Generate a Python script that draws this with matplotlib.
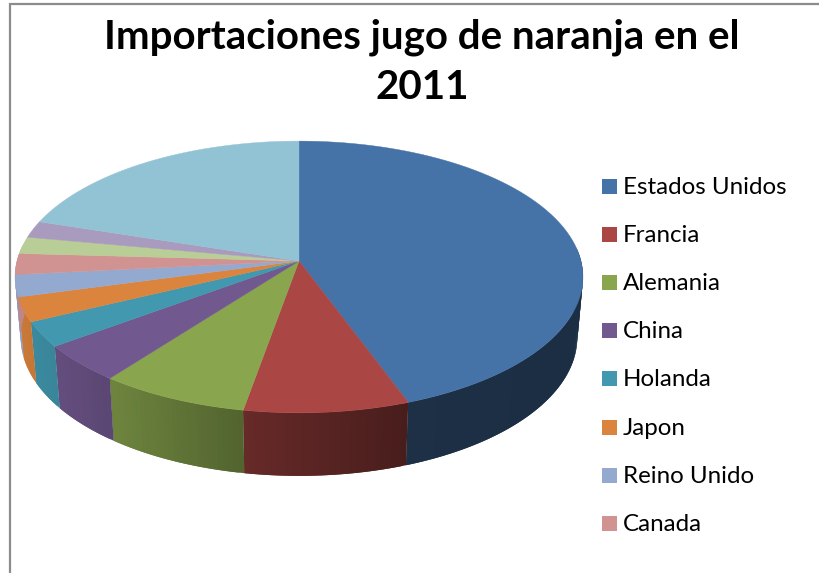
import numpy as np
import matplotlib
matplotlib.use("Agg")
import matplotlib.pyplot as plt
from matplotlib.patches import Rectangle

title = "Importaciones jugo de naranja en el\n2011"
# last three slices have no visible legend entry in the picture (cut off)
paises = ["Estados Unidos", "Francia", "Alemania", "China", "Holanda", "Japon",
          "Reino Unido", "Canada", "", "", ""]
valores = [44.4, 8.4, 7.6, 4.5, 3.0, 2.9, 2.6, 2.5, 2.0, 2.0, 20.1]
colores = ["#4572A7", "#AA4643", "#89A54E", "#71588F", "#4198AF", "#DB843D",
           "#93A9CF", "#D19392", "#B9CD96", "#A99BBD", "#92C3D5"]

# pie geometry in pixels
CX, CY = 299, 261
RX, S, K = 282, 134, 0.1176
BOTTOM_SCALE = 0.98


def project(theta):
    # theta clockwise from the top of the disc, simple perspective
    u = np.sin(theta)
    v = -np.cos(theta)
    w = 1 - K * v
    return CX + RX * u / w, CY + S * v / w, v


def side_shade(x):
    return np.interp(x, [15, 55, 111, 245, 408, 583], [0.92, 0.88, 0.80, 0.60, 0.42, 0.40])


def darker(color, f):
    return tuple(c * f for c in matplotlib.colors.to_rgb(color))


fig = plt.figure(figsize=(8.2, 5.73), dpi=100)
ax = fig.add_axes([0, 0, 1, 1])
ax.set_xlim(0, 820)
ax.set_ylim(573, 0)
ax.axis("off")

# chart frame, only left and top are inside the image
ax.plot([10.5, 10.5, 820], [573, 3.5, 3.5], color="#8c8c8c", lw=1.6, solid_joinstyle="miter")

bordes = np.cumsum([0] + valores) / sum(valores) * 2 * np.pi

# side faces first, each strip runs over the next one so no seams show
for i, color in enumerate(colores):
    n = max(int((bordes[i + 1] - bordes[i]) * 60), 2)
    ang = np.linspace(bordes[i], bordes[i + 1], n + 1)
    x, y, v = project(ang)
    xb = CX + (x - CX) * BOTTOM_SCALE
    yb = y + 60 + 3 * v
    for j in range(n):
        if v[j] < -0.1 and v[j + 1] < -0.1:
            continue
        c = darker(color, side_shade((x[j] + x[j + 1]) / 2))
        e = min(j + 3, n + 1)
        ax.fill(np.r_[x[j:e], xb[j:e][::-1]], np.r_[y[j:e], yb[j:e][::-1]],
                color=c, lw=0, zorder=2 + i * 0.01)

# top of the pie
for i, color in enumerate(colores):
    ang = np.linspace(bordes[i], bordes[i + 1], 80)
    x, y, v = project(ang)
    ax.fill(np.r_[CX, x], np.r_[CY, y], color=color, lw=0.3, zorder=3)

ax.text(422, 62, title, ha="center", va="center", fontsize=29, fontweight="bold",
        family="Lato", color="black", linespacing=1.45)

# legend, Canada is the last entry that fits
legend_y = [186, 234, 282, 330, 378, 427, 475, 523]
for nombre, color, ly in zip(paises[:8], colores[:8], legend_y):
    ax.add_patch(Rectangle((602, ly - 7.5), 15, 15, color=color, lw=0))
    ax.text(623, ly + 1.5, nombre, va="center", ha="left", fontsize=17.4, family="Lato", color="black")

plt.savefig("out.png", dpi=100)
